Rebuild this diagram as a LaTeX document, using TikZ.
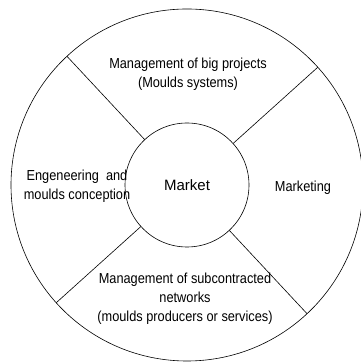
\documentclass[tikz,border=0pt]{standalone}
\usepackage{fontspec}
\setmainfont{Liberation Sans}
\newfontfamily\narrowfont[FakeStretch=0.88]{Liberation Sans}
\usetikzlibrary{positioning}

\tikzset{
  ring/.style={draw,circle,inner sep=0pt,outer sep=0pt,line width=.6pt},
  label text/.style={align=center,font=\narrowfont\fontsize{14.5}{19}\selectfont}
}

\begin{document}
\begin{tikzpicture}[x=1pt,y=1pt]
      \useasboundingbox (0,0) rectangle (360,363);
      \node[ring,minimum size=352pt] (wheel) at (187,178) {};
      \node[ring,minimum size=124pt,font=\fontsize{15}{18}\selectfont] (market) at (187,178) {Market};
      %% four dividers between the sectors
      \draw[line width=.6pt] (market.133) -- (wheel.133);
      \draw[line width=.6pt] (market.42) -- (wheel.42);
      \draw[line width=.6pt] (market.222) -- (wheel.222);
      \draw[line width=.6pt] (market.313) -- (wheel.313);
      \node[label text] (projects) at (188,289) {Management of big projects\\(Moulds systems)};
      \node[label text] (engineering) at (77,177) {Engeneering\ \ and\\moulds conception};
      \node[label text] (marketing) at (303,175) {Marketing};
      \node[label text] (networks) at (185,64) {Management of subcontracted\\networks\\(moulds producers or services)};
    \end{tikzpicture}
\end{document}
